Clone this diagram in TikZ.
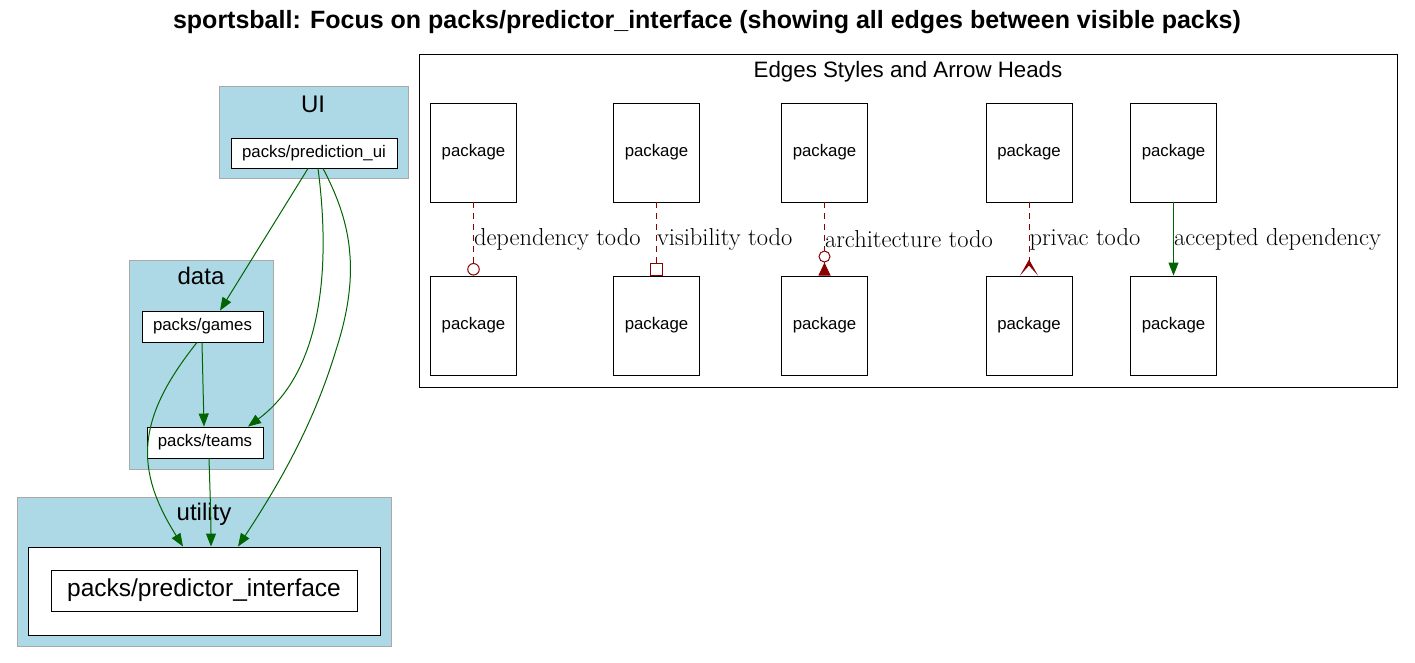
\documentclass[tikz,border=0pt]{standalone}
\usepackage{fontspec}
\newfontfamily\arial{Liberation Sans}
\usetikzlibrary{arrows.meta}
\definecolor{clfill}{HTML}{ADD8E6}
\definecolor{clborder}{HTML}{A9A9A9}
\definecolor{dgreen}{HTML}{006400}
\definecolor{dred}{HTML}{8B0000}
\begin{document}
\begin{tikzpicture}[x=1pt,y=-1pt,
  cluster/.style={draw=clborder,fill=clfill,line width=1pt},
  pack/.style={draw=black,fill=white,line width=0.9pt,inner sep=0pt,font=\arial\fontsize{16.8}{18}\selectfont},
  lbl/.style={font=\arial\fontsize{24}{26}\selectfont,inner sep=0pt},
  dep/.style={draw=dgreen,line width=1pt,-{Triangle[length=13pt,width=10pt]}},
  todo/.style={draw=dred,line width=1pt,dash pattern=on 6pt off 5pt},
  elbl/.style={font=\fontsize{24.5}{26}\selectfont,inner sep=0pt,anchor=west}
]
\useasboundingbox (0,0) rectangle (1415,663);
\fill[white] (0,0) rectangle (1415,663);

% title
\node[font=\arial\bfseries\fontsize{25}{28}\selectfont,inner sep=0pt] (title) at (707,22) {sportsball: Focus on packs/predictor\_interface (showing all edges between visible packs)};

% clusters
\draw[cluster] (219,87) rectangle (408,179);
\node[lbl] (uil) at (313,104) {UI};
\draw[cluster] (129,260) rectangle (273,469);
\node[lbl] (datal) at (201,276) {data};
\draw[cluster] (17,497) rectangle (391,646);
\node[lbl] (utill) at (204,514) {utility};

% nodes
\node[pack,minimum width=166pt,minimum height=30pt] (pui) at (314,153) {packs/prediction\_ui};
\node[pack,minimum width=121pt,minimum height=31pt] (games) at (202.5,326.5) {packs/games};
\node[pack,minimum width=116pt,minimum height=31pt] (teams) at (205,442.5) {packs/teams};
\node[draw=black,fill=white,line width=1pt,minimum width=352pt,minimum height=88pt,inner sep=0pt] (ubox) at (204,591) {};
\node[pack,minimum width=306pt,minimum height=41pt,font=\arial\fontsize{24.5}{26}\selectfont] (pi) at (204,590.5) {packs/predictor\_interface};

% edges
\draw[dep] ([xshift=-6pt]pui.south) -- ([xshift=17.5pt]games.north);
\draw[dep] ([xshift=4pt]pui.south) .. controls (330,260) and (325,370) .. ([xshift=43pt]teams.north);
\draw[dep] ([xshift=9pt]pui.south) .. controls (350,220) and (362,270) .. (336,350) .. controls (315,420) and (282,480) .. ([xshift=34pt]ubox.north);
\draw[dep] ([xshift=-5.5pt]games.south) .. controls (135,420) and (135,470) .. ([xshift=-21pt]ubox.north);
\draw[dep] ([xshift=-0.5pt]games.south) -- ([xshift=-1pt]teams.north);
\draw[dep] ([xshift=4pt]teams.south) .. controls (210,490) and (211,520) .. ([xshift=7pt]ubox.north);

% legend
\draw[black,line width=1pt] (419,55) rectangle (1397,387);
\node[font=\arial\fontsize{22.3}{24}\selectfont,inner sep=0pt] (legl) at (908,72) {Edges Styles and Arrow Heads};
\foreach \i/\x in {1/473.5,2/656.5,3/824.5,4/1029,5/1173.5}{
  \node[pack,minimum width=86pt,minimum height=99pt] (t\i) at (\x,152.5) {package};
  \node[pack,minimum width=86pt,minimum height=99pt] (b\i) at (\x,325.5) {package};
}
\draw[todo,-{Circle[open,length=12.5pt,width=12.5pt,fill=white,line width=1pt]}] (t1) -- (b1) node[elbl,pos=0.5] {dependency todo};
\draw[todo,-{Square[open,length=12.5pt,width=12.5pt,fill=white,line width=1pt]}] (t2) -- (b2) node[elbl,pos=0.5] {visibility todo};
\draw[todo,-{Circle[open,length=12pt,width=12pt,fill=white,line width=1pt] Triangle[reversed,length=13pt,width=12pt,fill=dred]}] (t3) -- (b3) node[elbl,pos=0.5] {architecture todo};
\draw[todo,-{Stealth[reversed,length=16pt,width=18pt,inset=10pt,fill=dred,line width=1.4pt]}] (t4) -- (b4) node[elbl,pos=0.5] {privac todo};
\draw[dep] (t5) -- (b5) node[elbl,pos=0.5] {accepted dependency};
\end{tikzpicture}
\end{document}
